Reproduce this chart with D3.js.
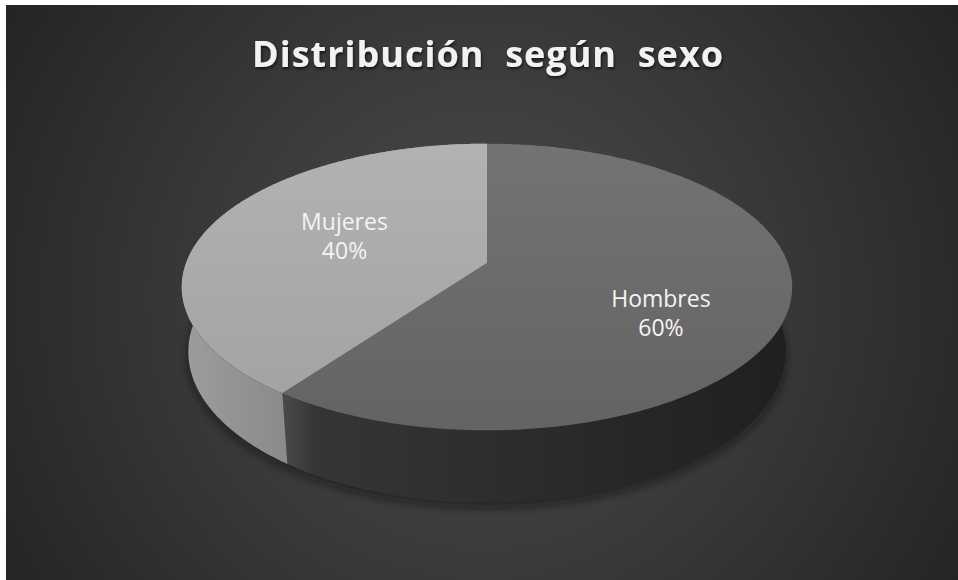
<!DOCTYPE html>
<html>
<head>
<meta charset="utf-8">
<script src="https://cdn.jsdelivr.net/npm/d3@7"></script>
<style>
  html, body { margin: 0; padding: 0; background: #ffffff; }
  svg { display: block; }
</style>
</head>
<body>
<svg id="chart" width="958" height="580"></svg>
<script>
// ---- data ----
const categories = ["Hombres", "Mujeres"];
const values = [60, 40];
const percentLabels = ["60%", "40%"];
const titleText = "Distribución  según  sexo";

// ---- layout / style ----
const W = 958, H = 580;
const frame = { x: 6, y: 5, w: 952, h: 575 };
// simple perspective camera looking down at a unit-radius disc
const cam = { cx: 487, cy: 263, k: 1595, dist: 5.3, sinE: 0.463 };
cam.cosE = Math.sqrt(1 - cam.sinE * cam.sinE);
const thickness = 0.245;                 // disc height in radius units
const labelRadius = 0.5;
const labelNudge = [[27, 28], [-3, -6]];  // per-slice fine placement
const topFill = ["url(#topH)", "url(#topM)"];
const sideFill = ["url(#sideH)", "url(#sideM)"];

const svg = d3.select("#chart");
const defs = svg.append("defs");

// background radial gradient
const bg = defs.append("radialGradient").attr("id", "bg")
  .attr("gradientUnits", "userSpaceOnUse")
  .attr("cx", 482).attr("cy", 300).attr("r", 560);
bg.append("stop").attr("offset", 0).attr("stop-color", "#4c4c4c");
bg.append("stop").attr("offset", 0.55).attr("stop-color", "#373737");
bg.append("stop").attr("offset", 1).attr("stop-color", "#242424");

function linGrad(id, x1, y1, x2, y2, stops) {
  const g = defs.append("linearGradient").attr("id", id)
    .attr("gradientUnits", "userSpaceOnUse")
    .attr("x1", x1).attr("y1", y1).attr("x2", x2).attr("y2", y2);
  stops.forEach(([o, c]) => g.append("stop").attr("offset", o).attr("stop-color", c));
}
linGrad("topM", 0, 146, 0, 400, [[0, "#b2b2b2"], [1, "#a3a3a3"]]);
linGrad("topH", 0, 146, 0, 432, [[0, "#737373"], [1, "#636363"]]);
linGrad("sideM", 183, 0, 284, 0, [[0, "#9d9d9d"], [1, "#8b8b8b"]]);
linGrad("sideH", 284, 0, 800, 0, [[0, "#4a4a4a"], [0.06, "#353535"], [0.5, "#2b2b2b"], [1, "#1f1f1f"]]);

const blur = defs.append("filter").attr("id", "soft")
  .attr("x", "-10%").attr("y", "-10%").attr("width", "120%").attr("height", "130%");
blur.append("feGaussianBlur").attr("stdDeviation", 5);

const tshadow = defs.append("filter").attr("id", "tshadow")
  .attr("x", "-5%").attr("y", "-20%").attr("width", "110%").attr("height", "150%");
tshadow.append("feDropShadow").attr("dx", 1).attr("dy", 2)
  .attr("stdDeviation", 1.5).attr("flood-color", "#000").attr("flood-opacity", 0.65);

// chart area
svg.append("rect").attr("x", frame.x).attr("y", frame.y)
  .attr("width", frame.w).attr("height", frame.h).attr("fill", "url(#bg)");

// projection of a point on the disc (angle clockwise from the far side, radius, height)
function project(theta, r, h) {
  const X = r * Math.sin(theta), Z = -r * Math.cos(theta);
  const depth = cam.dist - (h * cam.sinE + Z * cam.cosE);
  return [cam.cx + cam.k * X / depth, cam.cy + cam.k * (Z * cam.sinE - h * cam.cosE) / depth];
}
function arcPoints(a0, a1, r, h) {
  const n = Math.max(8, Math.ceil(Math.abs(a1 - a0) / 0.01));
  return d3.range(n + 1).map(i => project(a0 + (a1 - a0) * i / n, r, h));
}
const line = d3.line();

const pie = d3.pie().sort(null).startAngle(0).endAngle(2 * Math.PI);
const arcs = pie(values);

// soft shadow beneath the disc
svg.append("path")
  .attr("d", line(arcPoints(0, 2 * Math.PI, 1.0, -thickness).map(([x, y]) => [x, y + 5])) + "Z")
  .attr("fill", "#0c0c0c").attr("opacity", 0.55).attr("filter", "url(#soft)");

// outer side walls
svg.append("g").selectAll("path").data(arcs).join("path")
  .attr("d", d => {
    const top = arcPoints(d.startAngle, d.endAngle, 1, 0);
    const bottom = arcPoints(d.startAngle, d.endAngle, 1, -thickness).reverse();
    return line(top.concat(bottom)) + "Z";
  })
  .attr("fill", (d, i) => sideFill[i]);

// top faces
svg.append("g").selectAll("path").data(arcs).join("path")
  .attr("d", d => {
    const pts = [project(0, 0, 0)].concat(arcPoints(d.startAngle, d.endAngle, 1, 0));
    return line(pts) + "Z";
  })
  .attr("fill", (d, i) => topFill[i]);

// data labels
const lab = svg.append("g")
  .attr("font-family", "'Open Sans', 'Noto Sans', sans-serif")
  .attr("font-size", 23).attr("fill", "#f4f4f4").attr("text-anchor", "middle");
arcs.forEach((d, i) => {
  const mid = (d.startAngle + d.endAngle) / 2;
  const [px, py] = project(mid, labelRadius, 0);
  const x = px + labelNudge[i][0], y = py + labelNudge[i][1];
  const t = lab.append("text").attr("x", x).attr("y", y - 6);
  t.append("tspan").attr("x", x).attr("y", y - 6).text(categories[i]);
  t.append("tspan").attr("x", x).attr("y", y + 23).text(percentLabels[i]);
});

// title
svg.append("text")
  .attr("x", 252).attr("y", 67)
  .attr("textLength", 471).attr("lengthAdjust", "spacing")
  .attr("font-family", "'Open Sans', 'Noto Sans', sans-serif")
  .attr("font-weight", 700).attr("font-size", 36)
  .attr("fill", "#f2f2f2").attr("filter", "url(#tshadow)")
  .style("white-space", "pre")
  .text(titleText);
</script>
</body>
</html>
